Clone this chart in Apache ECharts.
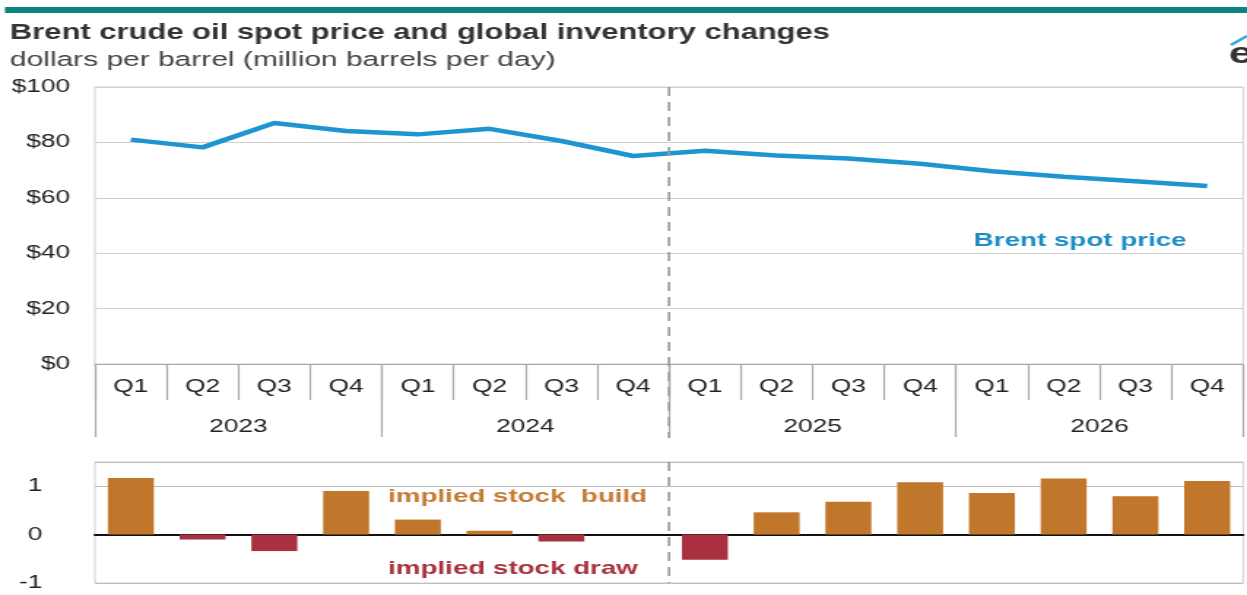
<!DOCTYPE html>
<html><head><meta charset="utf-8">
<script src="https://cdn.jsdelivr.net/npm/echarts@6/dist/echarts.min.js"></script>
<style>
html,body{margin:0;padding:0;overflow:hidden;background:#fff;width:1247px;height:595px}
#c{width:854px;height:595px;transform:scaleX(1.4602);transform-origin:0 0;}
</style>
</head><body><div id="c"></div>
<script>
const quarters = ['Q1','Q2','Q3','Q4','Q1','Q2','Q3','Q4','Q1','Q2','Q3','Q4','Q1','Q2','Q3','Q4'];
const years = ['2023','2024','2025','2026'];
const brentPrice = [81.0, 78.2, 87.0, 84.1, 82.9, 84.9, 80.5, 75.1, 77.0, 75.3, 74.2, 72.3, 69.6, 67.6, 66.0, 64.3];
const stockChange = [1.17, -0.10, -0.34, 0.90, 0.31, 0.08, -0.14, 0.0, -0.52, 0.46, 0.68, 1.08, 0.86, 1.16, 0.79, 1.11];
const priceTicks = [0, 20, 40, 60, 80, 100];
const stockTicks = [-1, 0, 1];

const FONT = 'Liberation Sans, Arial, sans-serif';
const BUILD = '#C0762B', DRAW = '#A8303F', BLUE = '#1D95D0';
const GRID_L = 65, GRID_R = 2.7;

const chart = echarts.init(document.getElementById('c'), null, {renderer: 'canvas'});
const option = {
  animation: false,
  textStyle: {fontFamily: FONT},
  grid: [
    {left: GRID_L, right: GRID_R, top: 87, height: 277, show: true, borderColor: '#cfcfcf', borderWidth: 1},
    {left: GRID_L, right: GRID_R, top: 462, height: 121, show: true, borderColor: '#cfcfcf', borderWidth: 1}
  ],
  xAxis: [
    {type: 'category', gridIndex: 0, data: quarters, boundaryGap: true,
     axisLine: {lineStyle: {color: '#a8a8a8', width: 1}},
     axisTick: {show: true, interval: 0, length: 36, lineStyle: {color: '#a8a8a8', width: 1.2}},
     axisLabel: {interval: 0, margin: 14, fontSize: 18, color: '#222', fontFamily: FONT}},
    {type: 'category', gridIndex: 0, data: years, boundaryGap: true, position: 'bottom',
     axisLine: {show: false},
     axisTick: {show: true, interval: 0, length: 73, lineStyle: {color: '#a8a8a8', width: 1.2}},
     axisLabel: {interval: 0, margin: 54, fontSize: 18, color: '#222', fontFamily: FONT}},
    {type: 'category', gridIndex: 1, data: quarters, boundaryGap: true,
     axisLine: {onZero: true, lineStyle: {color: '#111', width: 2}},
     axisTick: {show: false}, axisLabel: {show: false}}
  ],
  yAxis: [
    {type: 'value', gridIndex: 0, min: priceTicks[0], max: priceTicks[priceTicks.length-1], interval: 20,
     axisLine: {show: false}, axisTick: {show: false},
     splitLine: {lineStyle: {color: '#cfcfcf', width: 1}},
     axisLabel: {margin: 17, fontSize: 18, color: '#222', fontFamily: FONT, formatter: v => '$' + v}},
    {type: 'value', gridIndex: 1, min: stockTicks[0], max: 1.5, interval: 1,
     axisLine: {show: false}, axisTick: {show: false},
     splitLine: {lineStyle: {color: '#bdbdbd', width: 1}},
     axisLabel: {margin: 36, fontSize: 18, color: '#222', fontFamily: FONT,
       formatter: v => stockTicks.indexOf(v) >= 0 ? String(v) : ''}}
  ],
  series: [
    {type: 'line', xAxisIndex: 0, yAxisIndex: 0, data: brentPrice, symbol: 'none',
     lineStyle: {color: BLUE, width: 4.5}, z: 5},
    {type: 'bar', xAxisIndex: 2, yAxisIndex: 1, barCategoryGap: '36%',
     data: stockChange.map(v => ({value: v, itemStyle: {color: v < 0 ? DRAW : BUILD}})), z: 1}
  ]
};
chart.setOption(option);

const x7 = chart.convertToPixel({xAxisIndex: 0}, 7);
const x8 = chart.convertToPixel({xAxisIndex: 0}, 8);
const xd = (x7 + x8) / 2;
const yTop1 = chart.convertToPixel({yAxisIndex: 0}, 100);
const yBot1 = chart.convertToPixel({yAxisIndex: 0}, 0);
const yTop2 = chart.convertToPixel({yAxisIndex: 1}, 1.5);
const yBot2 = chart.convertToPixel({yAxisIndex: 1}, -1);

chart.setOption({
  graphic: [
    {type: 'rect', shape: {x: 3.4, y: 7, width: 860, height: 6}, style: {fill: '#0B837F'}},
    {type: 'text', left: 6.8, top: 23, style: {text: 'Brent crude oil spot price and global inventory changes', font: 'bold 21.2px ' + FONT, fill: '#333'}},
    {type: 'text', left: 6.8, top: 50, style: {text: 'dollars per barrel (million barrels per day)', font: '20.5px ' + FONT, fill: '#444'}},
    {type: 'text', left: 841.5, top: 40, style: {text: 'e', font: 'bold 30px ' + FONT, fill: '#333'}},
    {type: 'line', shape: {x1: 843, y1: 45, x2: 854, y2: 36}, style: {stroke: '#3AA8D8', lineWidth: 2.5}},
    {type: 'line', shape: {x1: xd, y1: yTop1, x2: xd, y2: yBot1 + 74}, style: {stroke: '#9a9a9a', lineWidth: 1.6, lineDash: [9, 6]}, z: 10},
    {type: 'line', shape: {x1: xd, y1: yTop2, x2: xd, y2: yBot2}, style: {stroke: '#9a9a9a', lineWidth: 1.6, lineDash: [9, 6]}, z: 10},
    {type: 'text', x: 739.7, y: 241, style: {text: 'Brent spot price', font: 'bold 19px ' + FONT, fill: '#1B8CC6', align: 'center', verticalAlign: 'middle'}},
    {type: 'text', x: 265.8, y: 497, style: {text: 'implied stock  build', font: 'bold 19px ' + FONT, fill: '#C47B32', align: 'left', verticalAlign: 'middle'}},
    {type: 'text', x: 265.8, y: 569, style: {text: 'implied stock draw', font: 'bold 19px ' + FONT, fill: '#A8303F', align: 'left', verticalAlign: 'middle'}}
  ]
});
</script>
</body></html>
